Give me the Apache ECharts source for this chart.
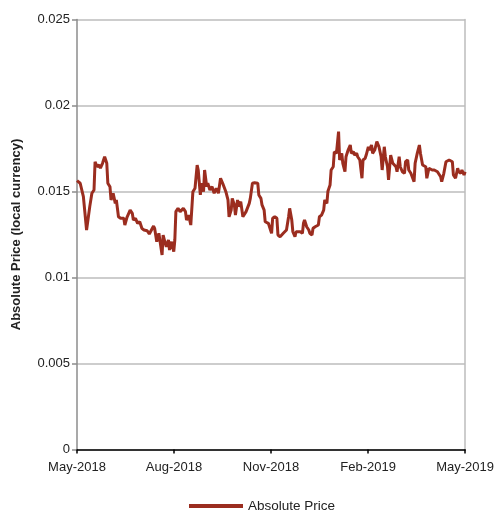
<!DOCTYPE html>
<html><head><meta charset="utf-8">
<script src="https://cdn.jsdelivr.net/npm/echarts@6/dist/echarts.min.js"></script>
<style>html,body{margin:0;padding:0;background:#fff}#c{width:497px;height:512px}</style>
</head><body><div id="c"></div>
<script>
// days since 2018-05-01
const days = [0,3,6,9,12,14,16,17,19,21,22,24,26,28,29,31,32,34,36,37,39,41,44,45,47,48,50,52,53,55,57,59,61,63,66,68,70,72,73,75,77,80,81,83,84,86,87,89,91,92,93,95,97,98,100,102,103,105,107,109,111,113,114,116,117,119,120,122,123,125,127,129,131,133,135,137,140,142,143,145,146,148,149,151,152,154,156,157,159,160,162,163,165,167,170,171,173,174,176,177,178,180,182,183,184,186,188,189,191,192,194,195,197,199,200,202,203,205,206,208,210,212,213,214,216,218,219,221,222,224,225,227,228,230,232,233,235,236,238,239,241,242,244,246,247,249,250,252,253,255,257,258,260,261,263,264,266,268,269,271,272,274,275,277,278,280,282,284,286,287,289,290,292,293,295,297,298,300,301,303,304,306,308,309,311,312,314,315,317,318,320,322,323,325,326,328,329,331,332,334,336,337,339,340,342,343,345,347,348,350,351,353,354,356,358,359,361,362,364,365];
const prices = [0.01563,0.01548,0.0147,0.01276,0.01412,0.0149,0.01509,0.01673,0.01644,0.01654,0.01635,0.01664,0.01702,0.01664,0.01548,0.01528,0.01451,0.0149,0.01431,0.01451,0.01353,0.01344,0.01344,0.01305,0.0135,0.01344,0.01392,0.01373,0.01334,0.01344,0.01315,0.01324,0.01286,0.01276,0.01272,0.01253,0.01276,0.01299,0.01286,0.01208,0.01257,0.01131,0.01247,0.01199,0.01179,0.01218,0.0116,0.01208,0.0115,0.01218,0.01383,0.01402,0.01383,0.01392,0.01402,0.01383,0.01334,0.01363,0.01305,0.01499,0.01519,0.01654,0.01625,0.0148,0.01548,0.01499,0.01625,0.01528,0.01548,0.01509,0.01528,0.0149,0.01519,0.0149,0.01577,0.01548,0.01499,0.01451,0.01353,0.01392,0.0146,0.01422,0.01363,0.01451,0.01412,0.01441,0.01353,0.01363,0.01383,0.01383,0.01431,0.0146,0.01548,0.01551,0.01548,0.0148,0.0146,0.01422,0.01392,0.01324,0.01334,0.01315,0.01276,0.01257,0.01344,0.01353,0.01344,0.01247,0.01237,0.01237,0.01257,0.01247,0.01276,0.01353,0.01402,0.01334,0.01266,0.01237,0.01266,0.01266,0.01266,0.01257,0.01315,0.01334,0.01295,0.01276,0.01257,0.01247,0.01286,0.01295,0.01295,0.01305,0.01353,0.01363,0.01392,0.01451,0.01431,0.01502,0.01538,0.01625,0.01644,0.01731,0.01722,0.01848,0.01683,0.01722,0.01664,0.01615,0.01702,0.01741,0.0177,0.01722,0.01731,0.01712,0.01722,0.01702,0.01683,0.01577,0.01683,0.01693,0.01712,0.0176,0.01741,0.0177,0.01722,0.01741,0.0179,0.0176,0.01702,0.01625,0.0176,0.01702,0.01644,0.01567,0.01712,0.01664,0.01673,0.01644,0.01615,0.01702,0.01644,0.01615,0.01606,0.01673,0.01683,0.01625,0.01606,0.01606,0.01557,0.01664,0.01722,0.0177,0.01722,0.01654,0.01654,0.01644,0.01577,0.01635,0.01625,0.01625,0.01625,0.01625,0.01615,0.01606,0.01586,0.01557,0.01606,0.01673,0.01683,0.01683,0.01683,0.01673,0.01596,0.01577,0.01635,0.01615,0.01606,0.01625,0.01596,0.01615];
const xTickLabels = ['May-2018','Aug-2018','Nov-2018','Feb-2019','May-2019'];
const seriesName = 'Absolute Price';
const yAxisTitle = 'Absolute Price (local currency)';

const chart = echarts.init(document.getElementById('c'));
const font = 'Liberation Sans, Arial, sans-serif';
chart.setOption({
  animation: false,
  textStyle: {fontFamily: font},
  grid: {left: 77, right: 31, top: 19.5, bottom: 62.5},
  legend: {
    data: [seriesName], top: 494, left: 184,
    icon: 'rect', itemWidth: 54, itemHeight: 4, itemGap: 6,
    textStyle: {fontSize: 13.5, color: '#222', fontFamily: font}
  },
  xAxis: {
    type: 'value', min: 0, max: 365, interval: 91.25,
    axisLine: {show: true, lineStyle: {color: '#000', width: 1.5}},
    axisTick: {show: true, length: 4, lineStyle: {color: '#000', width: 1.5}},
    splitLine: {show: false},
    axisLabel: {
      fontSize: 13, color: '#222', margin: 11, fontFamily: font,
      formatter: v => xTickLabels[Math.round(v / 91.25)] || ''
    }
  },
  yAxis: [{
    type: 'value', min: 0, max: 0.025, interval: 0.005,
    name: yAxisTitle, nameLocation: 'middle', nameGap: 54,
    nameTextStyle: {fontSize: 13, fontWeight: 'bold', color: '#222', fontFamily: font},
    axisLine: {show: true, lineStyle: {color: '#8c8c8c', width: 1.5}},
    axisTick: {show: true, length: 5, lineStyle: {color: '#8c8c8c', width: 1.5}},
    splitLine: {show: true, lineStyle: {color: '#bdbdbd', width: 1.5}},
    axisLabel: {
      fontSize: 13, color: '#222', margin: 7, fontFamily: font,
      formatter: v => (v === 0 ? '0' : String(+v.toFixed(3)))
    }
  }, {
    type: 'value', min: 0, max: 0.025, position: 'right',
    axisLine: {show: true, lineStyle: {color: '#bdbdbd', width: 1.5}},
    axisTick: {show: false}, axisLabel: {show: false}, splitLine: {show: false}
  }],
  series: [{
    name: seriesName, type: 'line', showSymbol: false, symbol: 'none',
    data: days.map((d, i) => [d, prices[i]]),
    lineStyle: {color: '#9b2d1f', width: 3},
    itemStyle: {color: '#9b2d1f'}
  }]
});
</script></body></html>
